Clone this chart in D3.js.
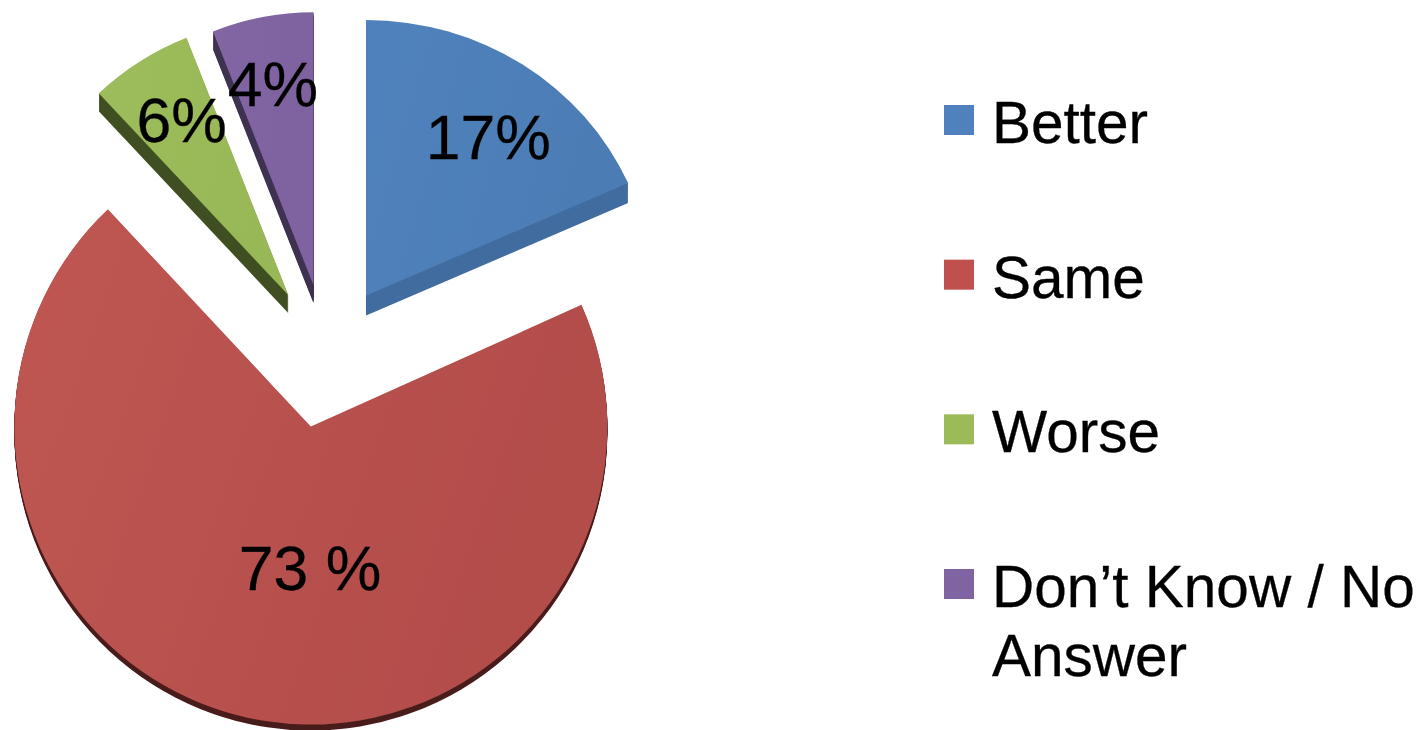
<!DOCTYPE html>
<html>
<head>
<meta charset="utf-8">
<script src="https://cdn.jsdelivr.net/npm/d3@7"></script>
<style>
  html, body { margin: 0; padding: 0; background: #fff; }
  svg { display: block; }
  text { font-family: "Liberation Sans", Arial, sans-serif; fill: #000; stroke: #000; stroke-width: 0.3px; }
</style>
</head>
<body>
<div id="chart"></div>
<script>
// chart data
const categories = ["Better", "Same", "Worse", "Don't Know / No Answer"];
const printedLabels = ["17%", "73 %", "6%", "4%"];
// wedge sizes as drawn in the picture, these don't follow the printed labels exactly
const drawnShares = [18.3, 69.7, 6, 6];
const legendLines = [["Better"], ["Same"], ["Worse"], ["Don\u2019t Know / No", "Answer"]];

const colors = ["#4f81bd", "#c0504d", "#9bbb59", "#8064a2"];
const lightTop = ["#5082bd", "#bf5652", "#9dbc5b", "#8266a3"];
const darkTop = ["#4c7cb4", "#b24d4a", "#98b757", "#7e63a0"];
const sideColors = ["#416c9f", "#4a1a1a", "#414f23", "#3e3050"];

const width = 1424, height = 730;
const cx = 327, cy = 356;            // pie centre before the slices are pulled out
const explode = 72;
const shiftX = [0, -2, 0, 0];
const radii = [287, 298, 277, 273];  // back slices look smaller because of the tilt
const squash = [[1, 0.96], [0.995, 1], [1, 1], [1, 1]];
const depths = [20, 6, 18, 18];
const labelNudge = [[44, -16], [28.5, 17], [-32.5, -36], [-15, -45]];

const svg = d3.select("#chart").append("svg")
    .attr("width", width)
    .attr("height", height)
    .attr("viewBox", [0, 0, width, height]);

const defs = svg.append("defs");
colors.forEach((c, i) => {
  const g = defs.append("linearGradient")
      .attr("id", "top" + i)
      .attr("x1", "0%").attr("y1", "0%")
      .attr("x2", "100%").attr("y2", "30%");
  g.append("stop").attr("offset", "0%").attr("stop-color", lightTop[i]);
  g.append("stop").attr("offset", "100%").attr("stop-color", darkTop[i]);
});
defs.append("filter").attr("id", "soft")
    .append("feGaussianBlur").attr("stdDeviation", 0.7);

const pie = d3.pie().sort(null);
const arcs = pie(drawnShares);

const arcFor = i => d3.arc().innerRadius(0).outerRadius(radii[i]);

// pull a slice out along its bisector
const apex = (d, i) => {
  const mid = (d.startAngle + d.endAngle) / 2;
  const p = d3.pointRadial(mid, explode);
  return [cx + p[0] + shiftX[i], cy + p[1]];
};

const slice = svg.append("g").attr("filter", "url(#soft)")
  .selectAll("g")
  .data(arcs)
  .join("g")
    .attr("transform", (d, i) => `translate(${apex(d, i)})`);

// side wall: the same wedge stepped down one pixel at a time
slice.each(function(d, i) {
  d3.select(this).selectAll("path.side")
    .data(d3.range(1, depths[i] + 1))
    .join("path")
      .attr("class", "side")
      .attr("d", arcFor(i)(d))
      .attr("transform", k => `translate(0,${k}) scale(${squash[i]})`)
      .attr("fill", sideColors[i]);
});

// top face
slice.append("path")
    .attr("d", (d, i) => arcFor(i)(d))
    .attr("transform", (d, i) => `scale(${squash[i]})`)
    .attr("fill", (d, i) => `url(#top${i})`);

// percent labels
svg.append("g")
  .selectAll("text")
  .data(arcs)
  .join("text")
    .attr("x", (d, i) => apex(d, i)[0] + arcFor(i).centroid(d)[0] + labelNudge[i][0])
    .attr("y", (d, i) => apex(d, i)[1] + arcFor(i).centroid(d)[1] + labelNudge[i][1])
    .attr("text-anchor", "middle")
    .attr("font-size", 62.5)
    .text((d, i) => printedLabels[i]);

// legend
const legendY = d3.scalePoint()
    .domain(categories)
    .range([120, 584]);

const legend = svg.append("g")
  .selectAll("g")
  .data(categories)
  .join("g")
    .attr("transform", d => `translate(944,${legendY(d)})`);

legend.append("rect")
    .attr("y", -15)
    .attr("width", 30)
    .attr("height", 30)
    .attr("fill", (d, i) => colors[i]);

legend.append("text")
    .attr("font-size", 58.5)
    .attr("y", 23)
    .selectAll("tspan")
    .data((d, i) => legendLines[i])
    .join("tspan")
      .attr("x", 48)
      .attr("dy", (d, i) => i ? 69 : 0)
      .text(d => d);
</script>
</body>
</html>
